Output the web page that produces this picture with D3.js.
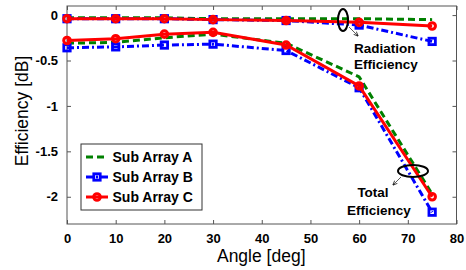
<!DOCTYPE html>
<html>
<head>
<meta charset="utf-8">
<script src="https://cdn.jsdelivr.net/npm/d3@7"></script>
<style>
  body { margin: 0; background: #fff; }
  text { font-family: "Liberation Sans", Arial, sans-serif; }
</style>
</head>
<body>
<svg id="chart"></svg>
<script>
// angles and efficiency values (dB)
const angles = [0, 10, 20, 30, 45, 60, 75];

const radA = [-0.03, -0.03, -0.03, -0.04, -0.04, -0.04, -0.05];
const radB = [-0.04, -0.04, -0.04, -0.05, -0.06, -0.11, -0.29];
const radC = [-0.04, -0.04, -0.04, -0.05, -0.06, -0.08, -0.12];

const totA = [-0.31, -0.3, -0.25, -0.21, -0.31, -0.68, -1.97];
const totB = [-0.36, -0.35, -0.33, -0.32, -0.39, -0.8, -2.17];
const totC = [-0.28, -0.26, -0.21, -0.19, -0.33, -0.78, -2.0];

const seriesNames = ["Sub Array A", "Sub Array B", "Sub Array C"];
const xTicks = [0, 10, 20, 30, 40, 50, 60, 70, 80];
const yTicks = [0, -0.5, -1, -1.5, -2];

const width = 466, height = 270;
const margin = {left: 67, right: 10, top: 6, bottom: 46};

const svg = d3.select("#chart").attr("width", width).attr("height", height);

const x = d3.scaleLinear().domain([0, 80]).range([margin.left, width - margin.right + 0.5]);
const y = d3.scaleLinear().domain([-2.3, 0.1]).range([height - margin.bottom, margin.top]);

const axisColor = "#555";

// box
svg.append("rect")
    .attr("x", x(0)).attr("y", y(0.1))
    .attr("width", x(80) - x(0)).attr("height", y(-2.3) - y(0.1))
    .style("fill", "none").style("stroke", axisColor).style("stroke-width", 1);

// axes with inward ticks
const styleAxis = (g) => {
    g.select(".domain").remove();
    g.selectAll(".tick line").style("stroke", axisColor);
    g.selectAll(".tick text")
        .style("font-size", "13px").style("font-weight", "bold")
        .style("fill", "#000")
        .style("font-family", "'Liberation Sans', Arial, sans-serif");
}

svg.append("g").attr("transform", `translate(0,${y(-2.3)})`)
    .call(d3.axisBottom(x).tickValues(xTicks).tickSizeInner(-4).tickSizeOuter(0).tickPadding(10))
    .call(styleAxis);
svg.append("g").attr("transform", `translate(0,${y(0.1)})`)
    .call(d3.axisTop(x).tickValues(xTicks).tickSizeInner(-4).tickSizeOuter(0).tickFormat(""))
    .call(styleAxis);
svg.append("g").attr("transform", `translate(${x(0)},0)`)
    .call(d3.axisLeft(y).tickValues(yTicks).tickSizeInner(-4).tickSizeOuter(0).tickPadding(9)
        .tickFormat((d) => d === 0 ? "0" : String(d)))
    .call(styleAxis);
svg.append("g").attr("transform", `translate(${x(80)},0)`)
    .call(d3.axisRight(y).tickValues(yTicks).tickSizeInner(-4).tickSizeOuter(0).tickFormat(""))
    .call(styleAxis);

// axis labels
svg.append("text")
    .attr("x", (x(0) + x(80)) / 2 - 0.5).attr("y", 262)
    .attr("text-anchor", "middle")
    .style("font-size", "17.5px")
    .text("Angle [deg]");
svg.append("text")
    .attr("transform", `translate(28,${111}) rotate(-90)`)
    .attr("text-anchor", "middle")
    .style("font-size", "17.5px")
    .text("Efficiency [dB]");

// series
const styles = [
    {color: "#008000", dash: "7,4", marker: null},
    {color: "#0000ff", dash: "7,3,2,3", marker: "square"},
    {color: "#ff0000", dash: null, marker: "circle"}
];

const line = d3.line().x((d) => x(d[0])).y((d) => y(d[1]));

const drawSeries = (vals, s) => {
    const pts = angles.map((a, i) => [a, vals[i]]);
    svg.append("path")
        .datum(pts)
        .attr("d", line)
        .style("fill", "none")
        .style("stroke", s.color)
        .style("stroke-width", 3)
        .style("stroke-dasharray", s.dash);
    drawMarkers(svg, pts, s);
}

const drawMarkers = (g, pts, s) => {
    if (s.marker === "circle") {
        g.selectAll(null).data(pts).enter().append("circle")
            .attr("cx", (d) => x(d[0])).attr("cy", (d) => y(d[1]))
            .attr("r", 3.3)
            .style("fill", "none").style("stroke", s.color).style("stroke-width", 3);
    } else if (s.marker === "square") {
        g.selectAll(null).data(pts).enter().append("rect")
            .attr("x", (d) => x(d[0]) - 3.2).attr("y", (d) => y(d[1]) - 3.2)
            .attr("width", 6.4).attr("height", 6.4)
            .style("fill", "none").style("stroke", s.color).style("stroke-width", 2.8);
    }
}

[radA, radB, radC].forEach((v, i) => drawSeries(v, styles[i]));
[totA, totB, totC].forEach((v, i) => drawSeries(v, styles[i]));

// legend
const legend = svg.append("g");
legend.append("rect")
    .attr("x", 81).attr("y", 144).attr("width", 121).attr("height", 66)
    .style("fill", "#fff").style("stroke", "#333").style("stroke-width", 1);
seriesNames.forEach((name, i) => {
    const ly = 157 + i * 20;
    const s = styles[i];
    legend.append("path")
        .attr("d", `M86,${ly}H108`)
        .style("stroke", s.color).style("stroke-width", 3)
        .style("stroke-dasharray", s.dash);
    drawMarkers(legend, [[x.invert(97), y.invert(ly)]], s);
    legend.append("text")
        .attr("x", 112.5).attr("y", ly + 5)
        .style("font-size", "14px").style("font-weight", "bold")
        .text(name);
});

// annotations
const ann = svg.append("g");
svg.append("defs").append("marker")
    .attr("id", "arrow").attr("viewBox", "0 0 10 10")
    .attr("refX", 9).attr("refY", 5)
    .attr("markerWidth", 6).attr("markerHeight", 6)
    .attr("orient", "auto")
    .append("path").attr("d", "M0,1L10,5L0,9").style("fill", "none").style("stroke", "#000").style("stroke-width", 1.5);

ann.append("ellipse").attr("cx", 343).attr("cy", 20).attr("rx", 5).attr("ry", 11)
    .style("fill", "none").style("stroke", "#000").style("stroke-width", 2);
ann.append("line").attr("x1", 349).attr("y1", 27).attr("x2", 358).attr("y2", 36)
    .style("stroke", "#333").style("stroke-width", 0.8).attr("marker-end", "url(#arrow)");
ann.append("text").attr("x", 354).attr("y", 53)
    .style("font-size", "13.5px").style("font-weight", "bold").text("Radiation");
ann.append("text").attr("x", 354).attr("y", 69)
    .style("font-size", "13.5px").style("font-weight", "bold").text("Efficiency");

ann.append("ellipse").attr("cx", 413).attr("cy", 171).attr("rx", 15).attr("ry", 6)
    .style("fill", "none").style("stroke", "#000").style("stroke-width", 2);
ann.append("line").attr("x1", 401).attr("y1", 177).attr("x2", 393).attr("y2", 185)
    .style("stroke", "#333").style("stroke-width", 0.8).attr("marker-end", "url(#arrow)");
ann.append("text").attr("x", 373).attr("y", 197).attr("text-anchor", "middle")
    .style("font-size", "13.5px").style("font-weight", "bold").text("Total");
ann.append("text").attr("x", 347).attr("y", 215)
    .style("font-size", "13.5px").style("font-weight", "bold").text("Efficiency");
</script>
</body>
</html>
